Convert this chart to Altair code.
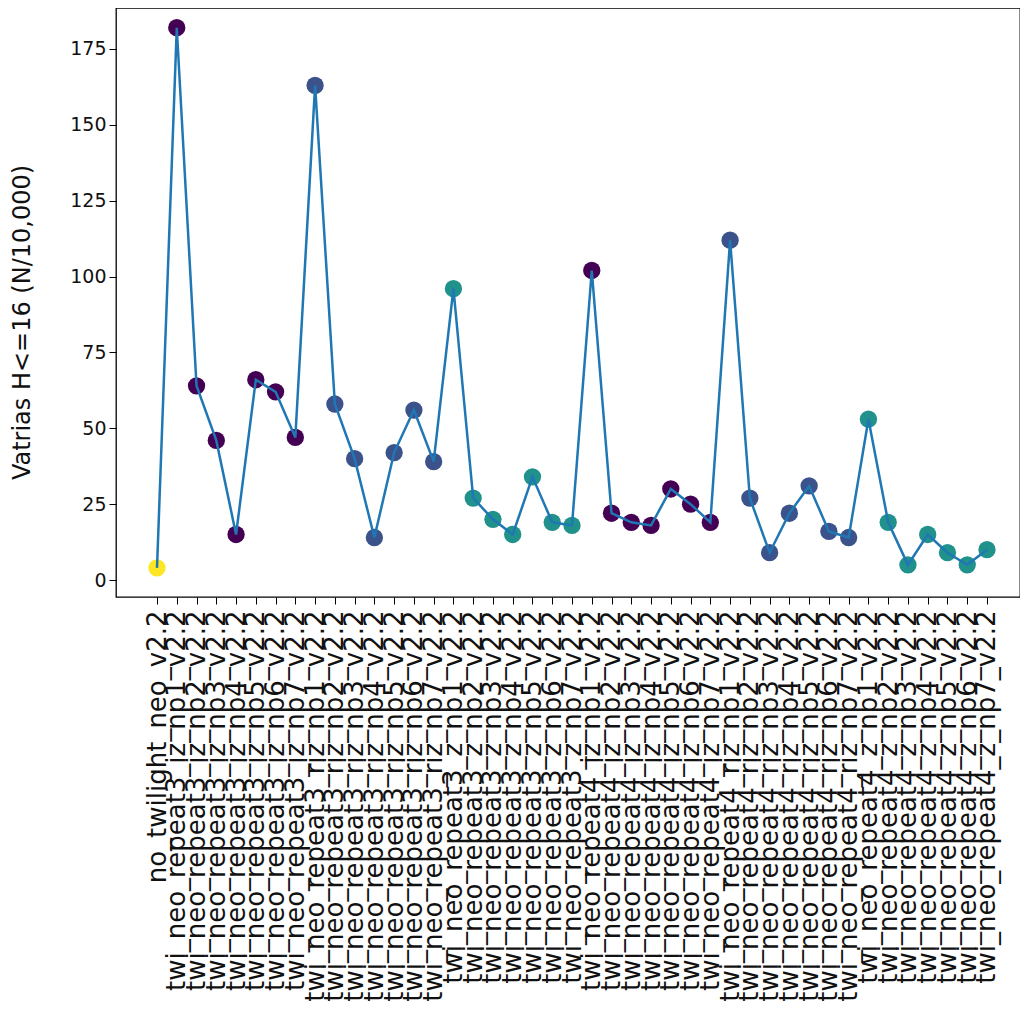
import altair as alt
import pandas as pd

labels = [
    "no_twilight_neo_v2.2",
    "twi_neo_repeat3_iz_np1_v2.2", "twi_neo_repeat3_iz_np2_v2.2", "twi_neo_repeat3_iz_np3_v2.2",
    "twi_neo_repeat3_iz_np4_v2.2", "twi_neo_repeat3_iz_np5_v2.2", "twi_neo_repeat3_iz_np6_v2.2",
    "twi_neo_repeat3_iz_np7_v2.2",
    "twi_neo_repeat3_riz_np1_v2.2", "twi_neo_repeat3_riz_np2_v2.2", "twi_neo_repeat3_riz_np3_v2.2",
    "twi_neo_repeat3_riz_np4_v2.2", "twi_neo_repeat3_riz_np5_v2.2", "twi_neo_repeat3_riz_np6_v2.2",
    "twi_neo_repeat3_riz_np7_v2.2",
    "twi_neo_repeat3_z_np1_v2.2", "twi_neo_repeat3_z_np2_v2.2", "twi_neo_repeat3_z_np3_v2.2",
    "twi_neo_repeat3_z_np4_v2.2", "twi_neo_repeat3_z_np5_v2.2", "twi_neo_repeat3_z_np6_v2.2",
    "twi_neo_repeat3_z_np7_v2.2",
    "twi_neo_repeat4_iz_np1_v2.2", "twi_neo_repeat4_iz_np2_v2.2", "twi_neo_repeat4_iz_np3_v2.2",
    "twi_neo_repeat4_iz_np4_v2.2", "twi_neo_repeat4_iz_np5_v2.2", "twi_neo_repeat4_iz_np6_v2.2",
    "twi_neo_repeat4_iz_np7_v2.2",
    "twi_neo_repeat4_riz_np1_v2.2", "twi_neo_repeat4_riz_np2_v2.2", "twi_neo_repeat4_riz_np3_v2.2",
    "twi_neo_repeat4_riz_np4_v2.2", "twi_neo_repeat4_riz_np5_v2.2", "twi_neo_repeat4_riz_np6_v2.2",
    "twi_neo_repeat4_riz_np7_v2.2",
    "twi_neo_repeat4_z_np1_v2.2", "twi_neo_repeat4_z_np2_v2.2", "twi_neo_repeat4_z_np3_v2.2",
    "twi_neo_repeat4_z_np4_v2.2", "twi_neo_repeat4_z_np5_v2.2", "twi_neo_repeat4_z_np6_v2.2",
    "twi_neo_repeat4_z_np7_v2.2",
]

values = [
    4,
    182, 64, 46, 15, 66, 62, 47,
    163, 58, 40, 14, 42, 56, 39,
    96, 27, 20, 15, 34, 19, 18,
    102, 22, 19, 18, 30, 25, 19,
    112, 27, 9, 22, 31, 16, 14,
    53, 19, 5, 15, 9, 5, 10,
]

groups = (
    ["none"]
    + ["iz"] * 7 + ["riz"] * 7 + ["z"] * 7
    + ["iz"] * 7 + ["riz"] * 7 + ["z"] * 7
)

group_domain = ["iz", "riz", "z", "none"]
group_colors = ["#440154", "#3b528b", "#21918c", "#fde725"]

y_ticks = [0, 25, 50, 75, 100, 125, 150, 175]

df = pd.DataFrame({
    "idx": list(range(len(labels))),
    "name": labels,
    "value": values,
    "group": groups,
})

label_expr = "[" + ",".join("'" + s + "'" for s in labels) + "][datum.value]"

x_enc = alt.X(
    "idx:Q",
    scale=alt.Scale(domain=[-2.075, 43.67], nice=False, zero=False),
    axis=alt.Axis(
        values=list(range(len(labels))),
        labelExpr=label_expr,
        labelAngle=270,
        labelAlign="right",
        labelBaseline="middle",
        labelFontSize=26,
        labelLimit=1000,
        labelOverlap=False,
        labelBound=False,
        labelFlush=False,
        labelPadding=6,
        tickSize=7,
        tickColor="black",
        domain=False,
        grid=False,
        title=None,
    ),
)

y_enc = alt.Y(
    "value:Q",
    scale=alt.Scale(domain=[-5.6, 188.5], nice=False, zero=False),
    axis=alt.Axis(
        values=y_ticks,
        labelFontSize=19,
        labelPadding=3,
        tickSize=7,
        tickColor="black",
        domain=False,
        grid=False,
        title="Vatrias H<=16 (N/10,000)",
        titleFontSize=24,
        titleFontWeight="normal",
        titleAngle=270,
        titleAlign="center",
        titleBaseline="middle",
        titleX=-94,
        titleY=314,
    ),
)

points = alt.Chart(df).mark_circle(size=300, opacity=1).encode(
    x=x_enc,
    y=y_enc,
    color=alt.Color("group:N", scale=alt.Scale(domain=group_domain, range=group_colors), legend=None),
)

line = alt.Chart(df).mark_line(color="#1f77b4", strokeWidth=2.5).encode(
    x=x_enc,
    y=y_enc,
)

chart = (
    alt.layer(points, line)
    .properties(
        width=904,
        height=589,
        autosize=alt.AutoSizeParams(type="none"),
        padding={"left": 108, "top": 0, "right": 0, "bottom": 414},
    )
    .configure_view(stroke="black", strokeWidth=1.3)
    .configure_axis(
        labelFont="DejaVu Sans",
        titleFont="DejaVu Sans",
        labelColor="#111",
        titleColor="#111",
    )
)

chart.save("out.html", embed_options={"renderer": "svg", "actions": False})
